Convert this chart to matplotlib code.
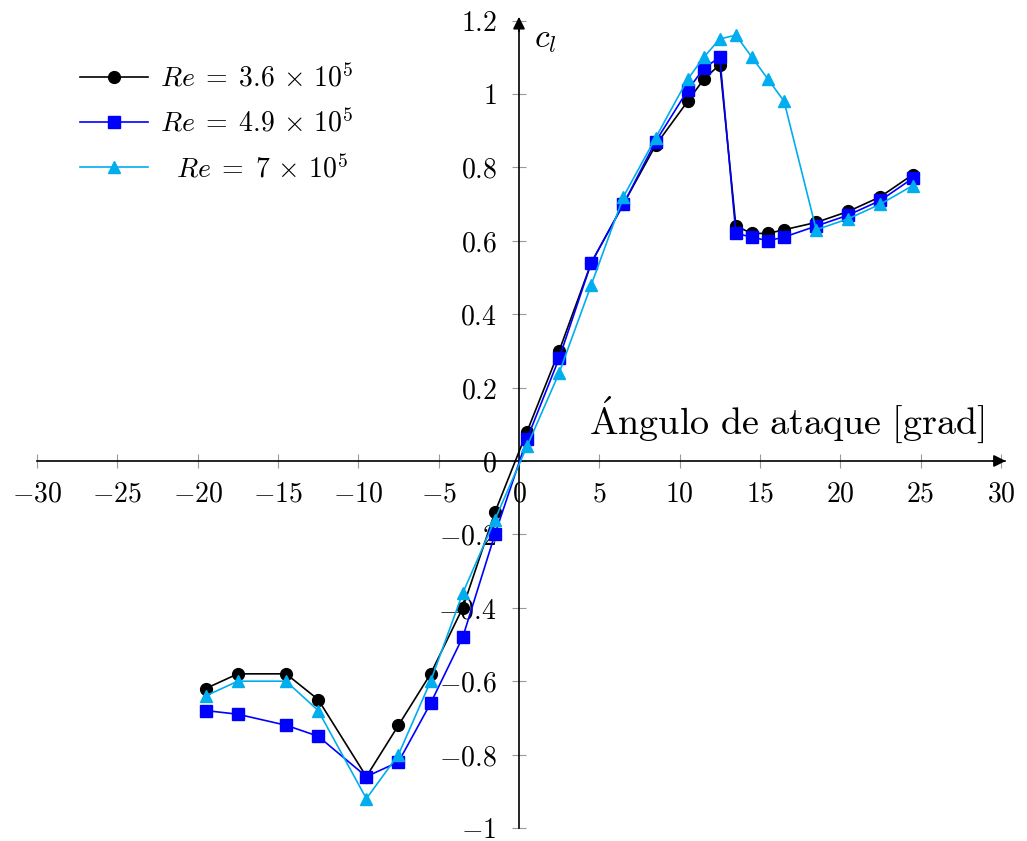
import matplotlib
matplotlib.use("Agg")
import matplotlib.pyplot as plt
from matplotlib.ticker import FuncFormatter

plt.rcParams['mathtext.fontset'] = 'cm'
plt.rcParams['font.family'] = ['DejaVu Serif']

# Data: angle of attack [deg] and lift coefficient c_l
alpha = [-19.5, -17.5, -14.5, -12.5, -9.5, -7.5, -5.5, -3.5, -1.5, 0.5, 2.5,
         4.5, 6.5, 8.5, 10.5, 11.5, 12.5, 13.5, 14.5, 15.5, 16.5, 18.5,
         20.5, 22.5, 24.5]
cl_36 = [-0.62, -0.58, -0.58, -0.65, -0.86, -0.72, -0.58, -0.40, -0.14, 0.08,
         0.30, 0.54, 0.70, 0.86, 0.98, 1.04, 1.08, 0.64, 0.62, 0.62, 0.63,
         0.65, 0.68, 0.72, 0.78]
cl_49 = [-0.68, -0.69, -0.72, -0.75, -0.86, -0.82, -0.66, -0.48, -0.20, 0.06,
         0.28, 0.54, 0.70, 0.87, 1.01, 1.07, 1.10, 0.62, 0.61, 0.60, 0.61,
         0.64, 0.67, 0.71, 0.77]
cl_70 = [-0.64, -0.60, -0.60, -0.68, -0.92, -0.80, -0.60, -0.36, -0.16, 0.04,
         0.24, 0.48, 0.72, 0.88, 1.04, 1.10, 1.15, 1.16, 1.10, 1.04, 0.98,
         0.63, 0.66, 0.70, 0.75]
labels = [r"$Re\;=\;3.6\,\times\,10^5$", r"$Re\;=\;4.9\,\times\,10^5$",
          r"$\ \ Re\;=\;7\,\times\,10^5$"]
x_ticks = [-30, -25, -20, -15, -10, -5, 0, 5, 10, 15, 20, 25, 30]
y_ticks = [-1, -0.8, -0.6, -0.4, -0.2, 0, 0.2, 0.4, 0.6, 0.8, 1, 1.2]

W, H = 1027, 841
fig = plt.figure(figsize=(W / 100, H / 100), dpi=100)
ax = fig.add_axes([37 / W, 13 / H, 968 / W, (828 - 18.7) / H])
ax.set_xlim(-30, 30.25)
ax.set_ylim(-1, 1.205)

cyan = '#00AEEF'
ax.plot(alpha, cl_36, color='black', marker='o', markersize=8.5, lw=1.2,
        label=labels[0], zorder=3)
ax.plot(alpha, cl_49, color='#0000FF', marker='s', markersize=8.5, lw=1.2,
        label=labels[1], zorder=4)
ax.plot(alpha, cl_70, color=cyan, marker='^', markersize=8.5, lw=1.2,
        label=labels[2], zorder=5)

for s in ['top', 'right']:
    ax.spines[s].set_visible(False)
ax.spines['left'].set_position(('data', 0))
ax.spines['bottom'].set_position(('data', 0))
ax.spines['left'].set_linewidth(1.2)
ax.spines['bottom'].set_linewidth(1.2)

ax.set_xticks(x_ticks)
ax.set_yticks(y_ticks)
fmt = FuncFormatter(lambda v, p: rf"${v:g}$")
ax.xaxis.set_major_formatter(fmt)
ax.yaxis.set_major_formatter(fmt)
ax.tick_params(direction='inout', length=10, width=0.8, color='0.6',
               labelsize=20)
ax.tick_params(axis='x', pad=9)
ax.tick_params(axis='y', pad=11)

# Arrow heads
ax.annotate('', xy=(30.3, 0), xytext=(29.5, 0),
            arrowprops=dict(arrowstyle='-|>', color='black', lw=1.2,
                            mutation_scale=18, shrinkA=0, shrinkB=0),
            annotation_clip=False, zorder=6)
ax.annotate('', xy=(0, 1.21), xytext=(0, 1.17),
            arrowprops=dict(arrowstyle='-|>', color='black', lw=1.2,
                            mutation_scale=18, shrinkA=0, shrinkB=0),
            annotation_clip=False, zorder=6)

ax.text(0.95, 1.15, r"$c_l$", fontsize=24, ha='left', va='center')
ax.text(29.0, 0.071, r"$\mathrm{\acute{A}ngulo\ de\ ataque\ [grad]}$",
        fontsize=27.5, ha='right', va='baseline')

leg = ax.legend(loc='upper left', bbox_to_anchor=(0.033, 0.958), frameon=False,
                fontsize=20, handlelength=2.45, handletextpad=0.43,
                labelspacing=0.6, borderaxespad=0)

fig.savefig('out.png', dpi=100)
